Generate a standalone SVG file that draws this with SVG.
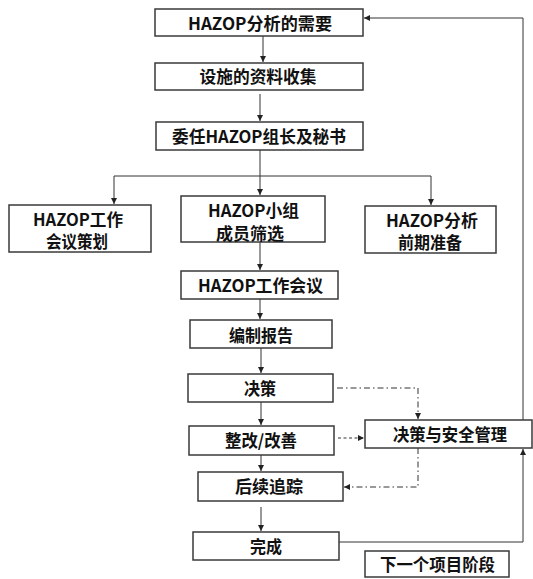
<svg xmlns="http://www.w3.org/2000/svg" width="533" height="579" viewBox="0 0 533 579">
<defs>
<style>
.box{fill:#fff;stroke:#3a3a3a;stroke-width:1.5}
.t{font-family:"Noto Sans CJK SC","Noto Sans",sans-serif;font-weight:700;font-size:17px;fill:#111;text-anchor:middle}
.s{font-size:16.5px}
.c{fill:none;stroke:#333;stroke-width:1}
.dd{stroke-dasharray:6 3 1.5 3}
.d{stroke-dasharray:3 2.5}
</style>
<marker id="ah" markerUnits="userSpaceOnUse" markerWidth="8" markerHeight="8" refX="6" refY="3" orient="auto">
<path d="M0,0 L6,3 L0,6 Z" fill="#222"/>
</marker>
</defs>
<rect width="533" height="579" fill="#fff"/>
<g id="connectors">
<line class="c" x1="263" y1="36" x2="263" y2="62" marker-end="url(#ah)"/>
<line class="c" x1="260" y1="94" x2="260" y2="121" marker-end="url(#ah)"/>
<line class="c" x1="260" y1="150" x2="260" y2="195" marker-end="url(#ah)"/>
<polyline class="c" points="114,199 114,176 431,176 431,205" marker-end="url(#ah)"/>
<line class="c" x1="114" y1="198" x2="114" y2="204" marker-end="url(#ah)"/>
<line class="c" x1="260" y1="242" x2="260" y2="270" marker-end="url(#ah)"/>
<line class="c" x1="260" y1="299" x2="260" y2="319" marker-end="url(#ah)"/>
<line class="c" x1="261" y1="348" x2="261" y2="373" marker-end="url(#ah)"/>
<line class="c" x1="261" y1="402" x2="261" y2="425" marker-end="url(#ah)"/>
<line class="c" x1="261" y1="455" x2="261" y2="471" marker-end="url(#ah)"/>
<line class="c" x1="261" y1="507" x2="261" y2="531" marker-end="url(#ah)"/>
<polyline class="c dd" points="337,388 418,388 418,419" marker-end="url(#ah)"/>
<line class="c d" x1="338" y1="438" x2="364" y2="438" marker-end="url(#ah)"/>
<polyline class="c dd" points="418,448 418,487 344,487" marker-end="url(#ah)"/>
<polyline class="c" points="339,542 523,542 523,449" marker-end="url(#ah)"/>
<polyline class="c" points="523,420 523,18 364,18" marker-end="url(#ah)"/>
</g>
<g id="n1"><rect class="box" x="155" y="9" width="208" height="27"/><text class="t" x="260" y="29.5" textLength="144" lengthAdjust="spacingAndGlyphs">HAZOP分析的需要</text></g>
<g id="n2"><rect class="box" x="155" y="63" width="208" height="27"/><text class="t" x="258" y="83" textLength="117" lengthAdjust="spacingAndGlyphs">设施的资料收集</text></g>
<g id="n3"><rect class="box" x="156" y="122" width="207" height="28"/><text class="t" x="259" y="143" textLength="174" lengthAdjust="spacingAndGlyphs">委任HAZOP组长及秘书</text></g>
<g id="n4"><rect class="box" x="9" y="205" width="142" height="47"/><text class="t s" x="78" y="226" textLength="90" lengthAdjust="spacingAndGlyphs">HAZOP工作</text><text class="t s" x="77" y="248" textLength="62" lengthAdjust="spacingAndGlyphs">会议策划</text></g>
<g id="n5"><rect class="box" x="181" y="196" width="144" height="46"/><text class="t s" x="253.5" y="217" textLength="91" lengthAdjust="spacingAndGlyphs">HAZOP小组</text><text class="t s" x="250" y="239.5" textLength="68" lengthAdjust="spacingAndGlyphs">成员筛选</text></g>
<g id="n6"><rect class="box" x="365" y="206" width="131" height="47"/><text class="t s" x="432" y="227" textLength="92" lengthAdjust="spacingAndGlyphs">HAZOP分析</text><text class="t s" x="430" y="249" textLength="64" lengthAdjust="spacingAndGlyphs">前期准备</text></g>
<g id="n7"><rect class="box" x="181" y="271" width="157" height="28"/><text class="t" x="260.5" y="291.5" textLength="125" lengthAdjust="spacingAndGlyphs">HAZOP工作会议</text></g>
<g id="n8"><rect class="box" x="190" y="320" width="142" height="28"/><text class="t" x="261" y="341.5" textLength="64" lengthAdjust="spacingAndGlyphs">编制报告</text></g>
<g id="n9"><rect class="box" x="188" y="374" width="145" height="28"/><text class="t" x="260" y="394.5" textLength="32" lengthAdjust="spacingAndGlyphs">决策</text></g>
<g id="n10"><rect class="box" x="189" y="426" width="145" height="29"/><text class="t" x="261" y="447" textLength="72" lengthAdjust="spacingAndGlyphs">整改/改善</text></g>
<g id="n11"><rect class="box" x="365" y="420" width="167" height="28"/><text class="t" x="450" y="440.5" textLength="114" lengthAdjust="spacingAndGlyphs">决策与安全管理</text></g>
<g id="n12"><rect class="box" x="198" y="472" width="145" height="29"/><text class="t" x="269" y="493" textLength="68" lengthAdjust="spacingAndGlyphs">后续追踪</text></g>
<g id="n13"><rect class="box" x="193" y="532" width="146" height="28"/><text class="t" x="266" y="552.5" textLength="32" lengthAdjust="spacingAndGlyphs">完成</text></g>
<g id="n14"><rect class="box" x="365" y="551" width="144" height="26"/><text class="t" x="437.5" y="570.5" textLength="115" lengthAdjust="spacingAndGlyphs">下一个项目阶段</text></g>
</svg>
